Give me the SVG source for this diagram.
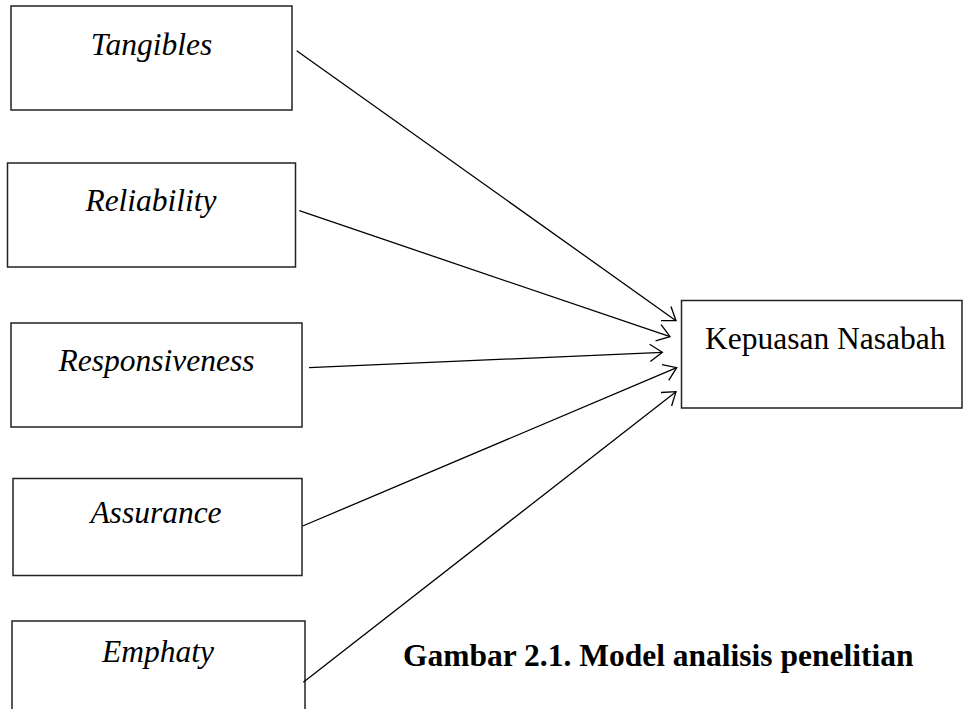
<svg xmlns="http://www.w3.org/2000/svg" width="963" height="709" viewBox="0 0 963 709">
<defs>
<style>
.box{fill:#fff;stroke:#222;stroke-width:1.5}
.lbl{font-family:"Liberation Serif","Times New Roman",serif;font-size:31.5px;font-style:italic;fill:#000;text-anchor:middle}
.plain{font-family:"Liberation Serif","Times New Roman",serif;font-size:31.5px;fill:#000}
.cap{font-family:"Liberation Serif","Times New Roman",serif;font-size:31.5px;font-weight:bold;fill:#000}
.con{stroke:#000;stroke-width:1.3;fill:none;marker-end:url(#arr)}
</style>
<marker id="arr" markerUnits="userSpaceOnUse" markerWidth="20" markerHeight="20" refX="15" refY="10" orient="auto" viewBox="0 0 20 20">
<path d="M2.7 1.4 L15 10 L2.7 18.6" fill="none" stroke="#000" stroke-width="1.3"/>
</marker>
</defs>
<rect width="963" height="709" fill="#fff"/>
<g id="tangibles"><rect class="box" x="11" y="6" width="281" height="104"/><text class="lbl" x="151.5" y="55">Tangibles</text></g>
<g id="reliability"><rect class="box" x="7.5" y="163" width="288" height="104"/><text class="lbl" x="151" y="211">Reliability</text></g>
<g id="responsiveness"><rect class="box" x="11" y="323" width="291" height="104"/><text class="lbl" x="156.5" y="371">Responsiveness</text></g>
<g id="assurance"><rect class="box" x="13" y="478.5" width="289" height="97"/><text class="lbl" x="156" y="523">Assurance</text></g>
<g id="emphaty"><rect class="box" x="12" y="621" width="293" height="100"/><text class="lbl" x="158" y="662">Emphaty</text></g>
<g id="kepuasan"><rect class="box" x="681.5" y="300.5" width="280.5" height="107.5"/><text class="plain" x="705" y="349">Kepuasan Nasabah</text></g>
<g id="connectors">
<line class="con" x1="296.7" y1="50.7" x2="676" y2="320.7"/>
<line class="con" x1="299.3" y1="210.7" x2="670" y2="336.7"/>
<line class="con" x1="309" y1="367.7" x2="662.3" y2="352.3"/>
<line class="con" x1="302.7" y1="526" x2="676.7" y2="367.7"/>
<line class="con" x1="303.3" y1="682.3" x2="676" y2="391.7"/>
</g>
<text class="cap" x="403" y="666">Gambar 2.1. Model analisis penelitian</text>
</svg>
